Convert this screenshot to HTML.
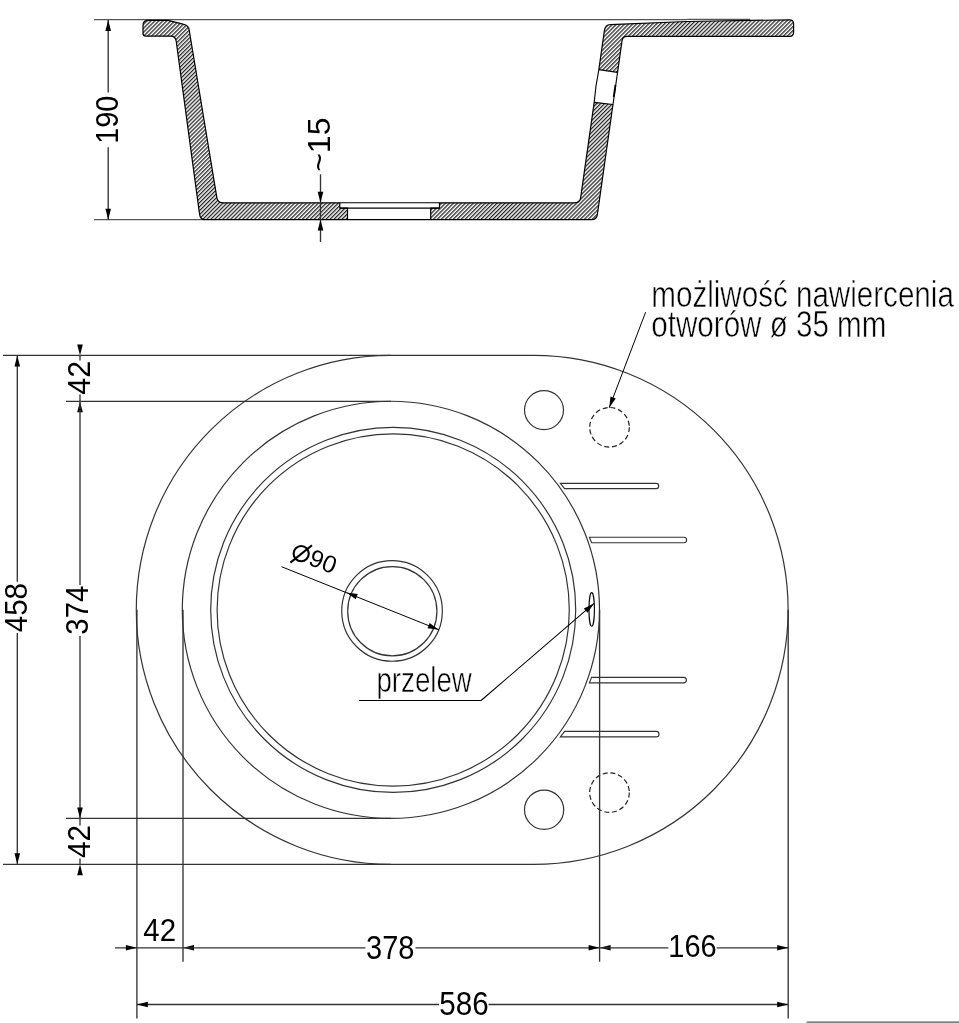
<!DOCTYPE html>
<html><head><meta charset="utf-8"><title>Sink drawing</title>
<style>
html,body{margin:0;padding:0;background:#fff;}
body{width:959px;height:1023px;overflow:hidden;}
svg{display:block;font-family:"Liberation Sans",sans-serif;filter:grayscale(1);}
</style></head><body>
<svg width="959" height="1023" viewBox="0 0 959 1023">
<defs>
<pattern id="hatch" patternUnits="userSpaceOnUse" width="2.81" height="10" patternTransform="rotate(45)">
<line x1="0.7" y1="-1" x2="0.7" y2="11" stroke="#000" stroke-width="1.1"/>
</pattern>
</defs>
<rect width="959" height="1023" fill="#fff"/>
<line x1="94.00" y1="19.60" x2="687.00" y2="19.60" stroke="#555" stroke-width="1.30"/>
<line x1="94.00" y1="219.70" x2="205.00" y2="219.70" stroke="#555" stroke-width="1.30"/>
<line x1="108.20" y1="19.90" x2="108.20" y2="92.60" stroke="#333" stroke-width="1.35"/>
<line x1="108.20" y1="147.30" x2="108.20" y2="219.70" stroke="#333" stroke-width="1.35"/>
<polygon points="108.20,19.90 111.00,30.90 105.40,30.90" fill="#000"/>
<polygon points="108.20,219.70 105.40,208.70 111.00,208.70" fill="#000"/>
<text transform="translate(118.00,119.70) rotate(-90.00) scale(0.9207,1)" font-size="31.29" text-anchor="middle">190</text>
<line x1="687.00" y1="19.30" x2="750.00" y2="19.30" stroke="#111" stroke-width="0.90"/>
<path d="M143.0,25.5 Q143.0,20.3 148.0,20.3 L168.0,20.3 L183.0,24.2 Q189.0,25.5 189.28,30.5 L216.89,197.80 Q217.71,202.80 223.71,202.80 L339.8,202.80 L339.8,208.1 L347.5,208.1 L347.5,219.60 L205.30,219.60 Q200.30,219.60 199.62,214.60 L176.25,41.50 Q175.54,36.2 170.54,36.2 L146.0,36.2 Q143.0,36.2 143.0,33.5 Z" fill="url(#hatch)" stroke="#000" stroke-width="1.2" stroke-linejoin="round"/>
<path d="M439.5,202.80 L573.92,202.80 Q579.92,202.80 580.63,197.80 L594.18,102.4 L612.98,104.5 L597.35,214.60 Q596.64,219.60 591.64,219.60 L430.7,219.60 L430.7,208.1 L439.5,208.1 Z" fill="url(#hatch)" stroke="#000" stroke-width="1.2" stroke-linejoin="round"/>
<path d="M598.84,69.6 L604.32,31 Q605.23,24.6 610.23,24.6 L687,21.5 L789.5,19.8 Q793.6,19.8 793.6,23.7 L793.6,32.3 Q793.6,36.4 789.5,36.4 L627,36.4 Q622.65,36.4 622.00,41 L617.55,72.3 Z" fill="url(#hatch)" stroke="#000" stroke-width="1.2" stroke-linejoin="round"/>
<path d="M598.84,69.6 Q595.51,86 594.18,102.4" fill="none" stroke="#000" stroke-width="1.1"/>
<line x1="617.55" y1="72.3" x2="612.98" y2="104.5" stroke="#000" stroke-width="1.1"/>
<line x1="615.45" y1="85" x2="613.75" y2="97" stroke="#000" stroke-width="1.8"/>
<line x1="339.80" y1="202.80" x2="439.50" y2="202.80" stroke="#000" stroke-width="1.10"/>
<line x1="339.80" y1="208.10" x2="439.50" y2="208.10" stroke="#000" stroke-width="1.10"/>
<line x1="347.50" y1="219.60" x2="430.70" y2="219.60" stroke="#000" stroke-width="1.10"/>
<line x1="320.50" y1="174.30" x2="320.50" y2="242.00" stroke="#333" stroke-width="1.35"/>
<polygon points="320.50,202.80 317.70,191.80 323.30,191.80" fill="#000"/>
<polygon points="320.50,219.60 323.30,230.60 317.70,230.60" fill="#000"/>
<text transform="translate(330.40,144.70) rotate(-90.00) scale(1.0500,1)" font-size="30.47" text-anchor="middle">~15</text>
<line x1="3.00" y1="355.40" x2="390.70" y2="355.40" stroke="#333" stroke-width="1.35"/>
<line x1="66.00" y1="401.30" x2="390.90" y2="401.30" stroke="#333" stroke-width="1.35"/>
<line x1="66.00" y1="818.40" x2="390.90" y2="818.40" stroke="#333" stroke-width="1.35"/>
<line x1="3.00" y1="864.30" x2="390.70" y2="864.30" stroke="#333" stroke-width="1.35"/>
<path d="M390.7,355.35 L533.7,355.35 A254.5,254.5 0 0 1 533.7,864.35 L390.7,864.35 A254.5,254.5 0 0 1 390.7,355.35 Z" fill="none" stroke="#333" stroke-width="1.2"/>
<circle cx="390.90" cy="609.85" r="208.60" fill="none" stroke="#333" stroke-width="1.2"/>
<circle cx="393.20" cy="609.95" r="182.50" fill="none" stroke="#333" stroke-width="1.2"/>
<circle cx="393.20" cy="609.95" r="176.10" fill="none" stroke="#333" stroke-width="1.2"/>
<circle cx="392.05" cy="610.95" r="50.30" fill="none" stroke="#333" stroke-width="1.2"/>
<circle cx="392.30" cy="611.20" r="44.60" fill="none" stroke="#333" stroke-width="1.2"/>
<circle cx="544" cy="410.1" r="19.5" fill="none" stroke="#333" stroke-width="1.2"/>
<circle cx="544.1" cy="809.8" r="19.6" fill="none" stroke="#333" stroke-width="1.2"/>
<circle cx="609.5" cy="427.3" r="19.8" fill="none" stroke="#222" stroke-width="1.2" stroke-dasharray="5 2.8"/>
<circle cx="609.5" cy="792.6" r="19.8" fill="none" stroke="#222" stroke-width="1.2" stroke-dasharray="5 2.8"/>
<ellipse cx="591.7" cy="609.4" rx="2.7" ry="16.8" fill="none" stroke="#000" stroke-width="1.1"/>
<path d="M560.40,483.40 L656.10,483.40 A2.60,2.60 0 0 1 656.10,488.60 L564.60,488.60 Z" fill="none" stroke="#333" stroke-width="1.15"/>
<path d="M589.40,537.20 L683.85,537.20 A2.75,2.75 0 0 1 683.85,542.70 L591.60,542.70 Z" fill="none" stroke="#333" stroke-width="1.15"/>
<path d="M591.60,677.30 L683.60,677.30 A2.80,2.80 0 0 1 683.60,682.90 L589.40,682.90 Z" fill="none" stroke="#333" stroke-width="1.15"/>
<path d="M564.60,731.40 L656.25,731.40 A2.75,2.75 0 0 1 656.25,736.90 L560.40,736.90 Z" fill="none" stroke="#333" stroke-width="1.15"/>
<line x1="136.90" y1="609.85" x2="136.90" y2="1018.50" stroke="#333" stroke-width="1.35"/>
<line x1="183.00" y1="609.85" x2="183.00" y2="961.70" stroke="#333" stroke-width="1.35"/>
<line x1="599.60" y1="610.00" x2="599.60" y2="961.70" stroke="#333" stroke-width="1.35"/>
<line x1="788.20" y1="609.85" x2="788.20" y2="1018.50" stroke="#333" stroke-width="1.35"/>
<line x1="17.30" y1="355.40" x2="17.30" y2="581.70" stroke="#333" stroke-width="1.35"/>
<line x1="17.30" y1="633.00" x2="17.30" y2="864.30" stroke="#333" stroke-width="1.35"/>
<polygon points="17.30,355.40 20.10,366.40 14.50,366.40" fill="#000"/>
<polygon points="17.30,864.30 14.50,853.30 20.10,853.30" fill="#000"/>
<text transform="translate(26.90,607.65) rotate(-90.00) scale(0.9289,1)" font-size="31.83" text-anchor="middle">458</text>
<polygon points="80.00,355.40 77.20,344.40 82.80,344.40" fill="#000"/>
<line x1="80.00" y1="355.40" x2="80.00" y2="360.50" stroke="#333" stroke-width="1.35"/>
<line x1="80.00" y1="394.50" x2="80.00" y2="401.30" stroke="#333" stroke-width="1.35"/>
<polygon points="80.00,401.30 82.80,412.30 77.20,412.30" fill="#000"/>
<line x1="80.00" y1="401.30" x2="80.00" y2="585.00" stroke="#333" stroke-width="1.35"/>
<line x1="80.00" y1="636.00" x2="80.00" y2="818.40" stroke="#333" stroke-width="1.35"/>
<polygon points="80.00,818.40 77.20,807.40 82.80,807.40" fill="#000"/>
<line x1="80.00" y1="818.40" x2="80.00" y2="825.50" stroke="#333" stroke-width="1.35"/>
<line x1="80.00" y1="858.50" x2="80.00" y2="864.30" stroke="#333" stroke-width="1.35"/>
<polygon points="80.00,864.30 82.80,875.30 77.20,875.30" fill="#000"/>
<text transform="translate(90.30,377.75) rotate(-90.00) scale(0.9893,1)" font-size="30.74" text-anchor="middle">42</text>
<text transform="translate(87.60,610.15) rotate(-90.00) scale(0.9480,1)" font-size="31.01" text-anchor="middle">374</text>
<text transform="translate(90.20,841.45) rotate(-90.00) scale(0.9521,1)" font-size="31.29" text-anchor="middle">42</text>
<line x1="115.00" y1="947.80" x2="183.00" y2="947.80" stroke="#333" stroke-width="1.35"/>
<polygon points="136.90,947.80 125.90,950.60 125.90,945.00" fill="#000"/>
<polygon points="183.00,947.80 194.00,945.00 194.00,950.60" fill="#000"/>
<line x1="183.00" y1="947.80" x2="365.50" y2="947.80" stroke="#333" stroke-width="1.35"/>
<line x1="415.50" y1="947.80" x2="599.60" y2="947.80" stroke="#333" stroke-width="1.35"/>
<polygon points="599.60,947.80 588.60,950.60 588.60,945.00" fill="#000"/>
<polygon points="599.60,947.80 610.60,945.00 610.60,950.60" fill="#000"/>
<line x1="599.60" y1="947.80" x2="668.40" y2="947.80" stroke="#333" stroke-width="1.35"/>
<line x1="716.60" y1="947.80" x2="788.20" y2="947.80" stroke="#333" stroke-width="1.35"/>
<polygon points="788.20,947.80 777.20,950.60 777.20,945.00" fill="#000"/>
<text transform="translate(159.75,941.00) rotate(0.00) scale(0.9269,1)" font-size="31.79" text-anchor="middle">42</text>
<text transform="translate(390.20,959.20) rotate(0.00) scale(0.8740,1)" font-size="33.22" text-anchor="middle">378</text>
<text transform="translate(692.45,956.80) rotate(0.00) scale(0.9035,1)" font-size="32.08" text-anchor="middle">166</text>
<line x1="136.90" y1="1004.50" x2="439.00" y2="1004.50" stroke="#333" stroke-width="1.35"/>
<line x1="488.50" y1="1004.50" x2="788.20" y2="1004.50" stroke="#333" stroke-width="1.35"/>
<polygon points="136.90,1004.50 147.90,1001.70 147.90,1007.30" fill="#000"/>
<polygon points="788.20,1004.50 777.20,1007.30 777.20,1001.70" fill="#000"/>
<text transform="translate(464.00,1014.50) rotate(0.00) scale(0.9160,1)" font-size="32.36" text-anchor="middle">586</text>
<line x1="806.70" y1="1022.20" x2="959.00" y2="1022.20" stroke="#555" stroke-width="1.30"/>
<line x1="281.50" y1="566.70" x2="438.80" y2="629.70" stroke="#000" stroke-width="1.00"/>
<polygon points="346.50,592.60 357.75,594.09 355.67,599.29" fill="#000"/>
<polygon points="438.80,629.70 427.55,628.21 429.63,623.01" fill="#000"/>
<text transform="translate(307.30,564.20) rotate(21.83) scale(1.0000,1)" font-size="24.50">90</text>
<circle cx="301.2" cy="553.6" r="7.6" fill="none" stroke="#000" stroke-width="2.1"/>
<line x1="290.4" y1="562.6" x2="312.0" y2="545.3" stroke="#000" stroke-width="2.1"/>
<line x1="359.00" y1="700.50" x2="481.10" y2="700.50" stroke="#000" stroke-width="1.10"/>
<line x1="481.10" y1="700.50" x2="594.00" y2="603.40" stroke="#000" stroke-width="1.10"/>
<polygon points="594.00,603.40 587.49,612.70 583.83,608.45" fill="#000"/>
<text transform="translate(376.40,691.90) rotate(0.00) scale(0.7700,1)" font-size="36.00" stroke="#fff" stroke-width="0.55">przelew</text>
<line x1="645.60" y1="312.20" x2="609.20" y2="407.80" stroke="#000" stroke-width="1.00"/>
<polygon points="609.20,407.80 610.50,396.52 615.73,398.52" fill="#000"/>
<text transform="translate(651.30,307.00) rotate(0.00) scale(0.8223,1)" font-size="36.00" stroke="#fff" stroke-width="0.55">możliwość nawiercenia</text>
<text transform="translate(651.30,337.00) rotate(0.00) scale(0.8223,1)" font-size="36.00" stroke="#fff" stroke-width="0.55">otworów ø 35 mm</text>
</svg>
</body></html>
